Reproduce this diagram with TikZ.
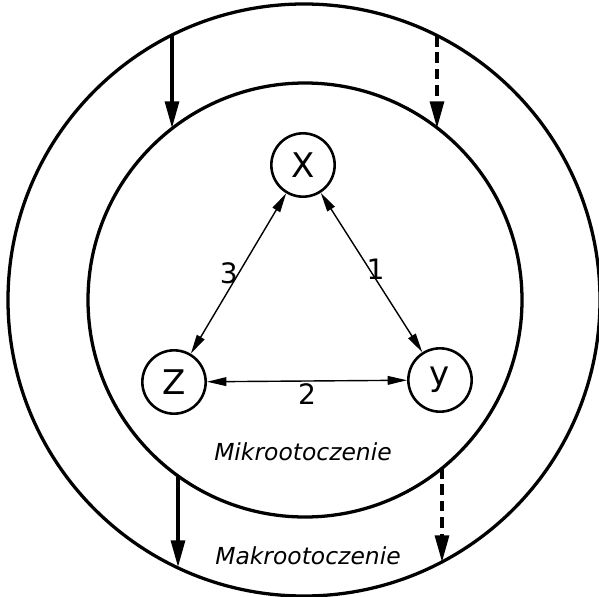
\documentclass[tikz,border=0pt]{standalone}
\usepackage{fontspec}
\setmainfont{DejaVu Sans}
\usetikzlibrary{arrows.meta}

\begin{document}
\begin{tikzpicture}[x=0.03cm,y=-0.03cm]
  \tikzstyle{ring}=[line width=2.8pt]
  \tikzstyle{agent}=[circle,draw,line width=2.2pt,minimum size=1.9cm,inner sep=0pt,font=\fontsize{29}{29}\selectfont]
  \tikzstyle{link}=[line width=1.2pt,{Triangle[length=0.58cm,width=0.26cm]}-{Triangle[length=0.58cm,width=0.26cm]}]
  \tikzstyle{flow}=[line width=2.6pt,-{Triangle[length=0.8cm,width=0.42cm]}]
  \tikzstyle{lbl}=[font=\fontsize{24}{24}\selectfont]
  \tikzstyle{env}=[font=\fontsize{20}{20}\selectfont\itshape]

  \useasboundingbox (0,0) rectangle (599,596);

  \draw[ring] (304,300) circle[radius=296];
  \draw[ring] (305,300) circle[radius=217];

  \node[agent] (x) at (303,165) {X};
  \node[agent] (z) at (174,382) {Z};
  \node[agent] (y) at (440,380) {y};

  \draw[link] (x) -- node[lbl,left,pos=0.5,inner sep=0pt] {3} (z);
  \draw[link] (x) -- node[lbl,right,pos=0.48,inner sep=0pt,xshift=-3pt] {1} (y);
  \draw[link] (z) -- node[lbl,below,inner sep=2pt] {2} (y);

  % wplyw makrootoczenia
  \coordinate (ot1) at (172,35);
  \coordinate (in1) at (172,128);
  \coordinate (ot2) at (437,36);
  \coordinate (in2) at (437,128);
  \coordinate (in3) at (178,477);
  \coordinate (ot3) at (178,567);
  \coordinate (in4) at (442,468);
  \coordinate (ot4) at (442,562);

  \draw[flow] (ot1) -- (in1);
  \draw[flow,dashed,dash pattern=on 9pt off 5pt] (ot2) -- (in2);
  \draw[flow] (in3) -- (ot3);
  \draw[flow,dashed,dash pattern=on 9pt off 5pt] (in4) -- (ot4);

  \node[env] (mikro) at (303,452) {Mikrootoczenie};
  \node[env] (makro) at (308,556) {Makrootoczenie};
\end{tikzpicture}
\end{document}
